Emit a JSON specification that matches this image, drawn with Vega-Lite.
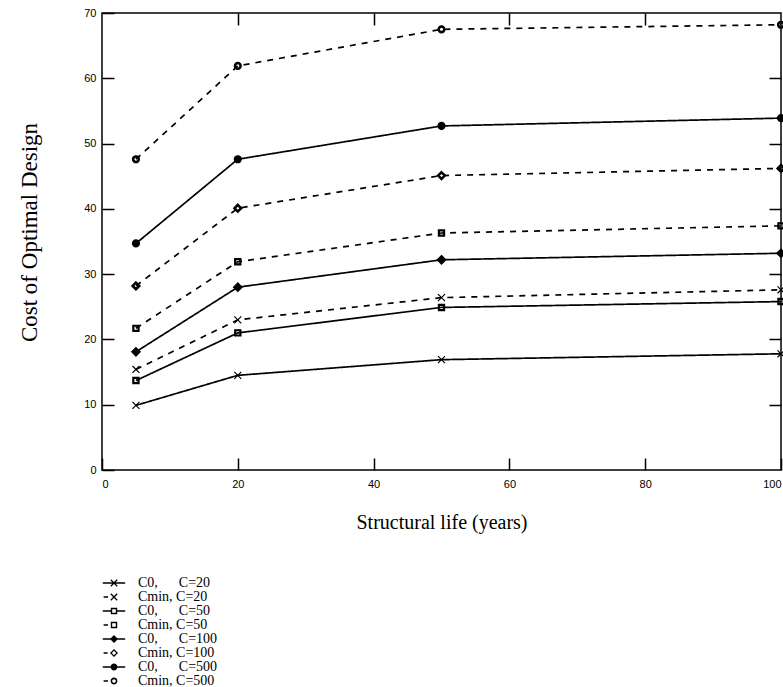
{
  "$schema": "https://vega.github.io/schema/vega-lite/v6.json",
  "width": 679,
  "height": 457,
  "autosize": {"type": "none"},
  "padding": {"left": 102, "top": 13, "right": 2, "bottom": 217},
  "background": "white",
  "config": {
    "view": {"stroke": "black", "strokeWidth": 1.5},
    "axis": {
      "grid": false,
      "domain": false,
      "tickColor": "black",
      "tickWidth": 1.5,
      "labelColor": "black",
      "labelFont": "Liberation Sans",
      "labelFontSize": 11,
      "titleFont": "Liberation Serif",
      "titleFontWeight": "normal",
      "titleColor": "black"
    },
    "legend": {
      "labelFont": "Liberation Serif",
      "labelFontSize": 14,
      "labelColor": "black"
    }
  },
  "data": {
    "values": [
      {"s": "C0,\u00a0\u00a0\u00a0\u00a0\u00a0\u00a0C=20", "life": 5, "cost": 9.9},
      {"s": "C0,\u00a0\u00a0\u00a0\u00a0\u00a0\u00a0C=20", "life": 20, "cost": 14.5},
      {"s": "C0,\u00a0\u00a0\u00a0\u00a0\u00a0\u00a0C=20", "life": 50, "cost": 16.9},
      {"s": "C0,\u00a0\u00a0\u00a0\u00a0\u00a0\u00a0C=20", "life": 100, "cost": 17.8},
      {"s": "Cmin, C=20", "life": 5, "cost": 15.4},
      {"s": "Cmin, C=20", "life": 20, "cost": 23.0},
      {"s": "Cmin, C=20", "life": 50, "cost": 26.4},
      {"s": "Cmin, C=20", "life": 100, "cost": 27.6},
      {"s": "C0,\u00a0\u00a0\u00a0\u00a0\u00a0\u00a0C=50", "life": 5, "cost": 13.7},
      {"s": "C0,\u00a0\u00a0\u00a0\u00a0\u00a0\u00a0C=50", "life": 20, "cost": 21.0},
      {"s": "C0,\u00a0\u00a0\u00a0\u00a0\u00a0\u00a0C=50", "life": 50, "cost": 24.9},
      {"s": "C0,\u00a0\u00a0\u00a0\u00a0\u00a0\u00a0C=50", "life": 100, "cost": 25.8},
      {"s": "Cmin, C=50", "life": 5, "cost": 21.7},
      {"s": "Cmin, C=50", "life": 20, "cost": 31.9},
      {"s": "Cmin, C=50", "life": 50, "cost": 36.3},
      {"s": "Cmin, C=50", "life": 100, "cost": 37.4},
      {"s": "C0,\u00a0\u00a0\u00a0\u00a0\u00a0\u00a0C=100", "life": 5, "cost": 18.1},
      {"s": "C0,\u00a0\u00a0\u00a0\u00a0\u00a0\u00a0C=100", "life": 20, "cost": 28.0},
      {"s": "C0,\u00a0\u00a0\u00a0\u00a0\u00a0\u00a0C=100", "life": 50, "cost": 32.2},
      {"s": "C0,\u00a0\u00a0\u00a0\u00a0\u00a0\u00a0C=100", "life": 100, "cost": 33.2},
      {"s": "Cmin, C=100", "life": 5, "cost": 28.2},
      {"s": "Cmin, C=100", "life": 20, "cost": 40.1},
      {"s": "Cmin, C=100", "life": 50, "cost": 45.1},
      {"s": "Cmin, C=100", "life": 100, "cost": 46.2},
      {"s": "C0,\u00a0\u00a0\u00a0\u00a0\u00a0\u00a0C=500", "life": 5, "cost": 34.7},
      {"s": "C0,\u00a0\u00a0\u00a0\u00a0\u00a0\u00a0C=500", "life": 20, "cost": 47.6},
      {"s": "C0,\u00a0\u00a0\u00a0\u00a0\u00a0\u00a0C=500", "life": 50, "cost": 52.7},
      {"s": "C0,\u00a0\u00a0\u00a0\u00a0\u00a0\u00a0C=500", "life": 100, "cost": 53.9},
      {"s": "Cmin, C=500", "life": 5, "cost": 47.6},
      {"s": "Cmin, C=500", "life": 20, "cost": 61.9},
      {"s": "Cmin, C=500", "life": 50, "cost": 67.5},
      {"s": "Cmin, C=500", "life": 100, "cost": 68.2}
    ]
  },
  "resolve": {
    "scale": {"shape": "independent"},
    "axis": {"x": "independent", "y": "independent"}
  },
  "layer": [
    {
      "mark": {"type": "line", "color": "black", "strokeWidth": 1.7},
      "encoding": {
        "x": {
          "field": "life", "type": "quantitative",
          "scale": {"domain": [0, 100], "nice": false},
          "axis": {"orient": "bottom", "values": [0, 20, 40, 60, 80, 100], "tickSize": -12, "labelPadding": 20, "title": "Structural life (years)", "titleFontSize": 20, "titlePadding": 23}
        },
        "y": {
          "field": "cost", "type": "quantitative",
          "scale": {"domain": [0, 70], "nice": false},
          "axis": {"orient": "left", "values": [0, 10, 20, 30, 40, 50, 60, 70], "tickSize": -12, "labelPadding": 18, "title": "Cost of Optimal Design", "titleFontSize": 23, "titlePadding": 42, "titleY": 219}
        },
        "strokeDash": {
          "field": "s", "type": "nominal",
          "scale": {
            "domain": ["C0,\u00a0\u00a0\u00a0\u00a0\u00a0\u00a0C=20", "Cmin, C=20", "C0,\u00a0\u00a0\u00a0\u00a0\u00a0\u00a0C=50", "Cmin, C=50", "C0,\u00a0\u00a0\u00a0\u00a0\u00a0\u00a0C=100", "Cmin, C=100", "C0,\u00a0\u00a0\u00a0\u00a0\u00a0\u00a0C=500", "Cmin, C=500"],
            "range": [[1, 0], [6, 6], [1, 0], [6, 6], [1, 0], [6, 6], [1, 0], [6, 6]]
          },
          "legend": null
        }
      }
    },
    {
      "mark": {"type": "point", "filled": false, "fill": "black", "stroke": "black", "strokeWidth": 1.2, "size": 60, "opacity": 1},
      "encoding": {
        "x": {
          "field": "life", "type": "quantitative",
          "axis": {"orient": "top", "values": [20, 40, 60, 80], "tickSize": -12, "labels": false, "title": null}
        },
        "y": {
          "field": "cost", "type": "quantitative",
          "axis": {"orient": "right", "values": [10, 20, 30, 40, 50, 60], "tickSize": -12, "labels": false, "title": null}
        },
        "shape": {
          "field": "s", "type": "nominal",
          "scale": {
            "domain": ["C0,\u00a0\u00a0\u00a0\u00a0\u00a0\u00a0C=20", "Cmin, C=20", "C0,\u00a0\u00a0\u00a0\u00a0\u00a0\u00a0C=50", "Cmin, C=50", "C0,\u00a0\u00a0\u00a0\u00a0\u00a0\u00a0C=100", "Cmin, C=100", "C0,\u00a0\u00a0\u00a0\u00a0\u00a0\u00a0C=500", "Cmin, C=500"],
            "range": [
              "M-0.9,-0.9L0.9,0.9M-0.9,0.9L0.9,-0.9",
              "M-0.9,-0.9L0.9,0.9M-0.9,0.9L0.9,-0.9",
              "M-0.8,-0.8H0.8V0.8H-0.8ZM-0.55,-0.55V0.55H0.55V-0.55Z",
              "M-0.8,-0.8H0.8V0.8H-0.8ZM-0.55,-0.55V0.55H0.55V-0.55Z",
              "M0,-1.1L1.1,0L0,1.1L-1.1,0Z",
              "M0,-1.1L1.1,0L0,1.1L-1.1,0ZM0,-0.62L-0.62,0L0,0.62L0.62,0Z",
              "M0.9,0A0.9,0.9,0,1,1,-0.9,0A0.9,0.9,0,1,1,0.9,0Z",
              "M0.9,0A0.9,0.9,0,1,1,-0.9,0A0.9,0.9,0,1,1,0.9,0ZM0.55,0A0.55,0.55,0,1,0,-0.55,0A0.55,0.55,0,1,0,0.55,0Z"
            ]
          },
          "legend": null
        }
      }
    },
    {
      "mark": {"type": "point", "filled": false, "fill": "black", "stroke": "black", "strokeWidth": 1.3, "size": 0},
      "encoding": {
        "x": {"field": "life", "type": "quantitative", "axis": null},
        "y": {"field": "cost", "type": "quantitative", "axis": null},
        "shape": {
          "field": "s", "type": "nominal",
          "scale": {
            "domain": ["C0,\u00a0\u00a0\u00a0\u00a0\u00a0\u00a0C=20", "Cmin, C=20", "C0,\u00a0\u00a0\u00a0\u00a0\u00a0\u00a0C=50", "Cmin, C=50", "C0,\u00a0\u00a0\u00a0\u00a0\u00a0\u00a0C=100", "Cmin, C=100", "C0,\u00a0\u00a0\u00a0\u00a0\u00a0\u00a0C=500", "Cmin, C=500"],
            "range": [
              "M-2.8,-0.18H2.8V0.18H-2.8ZM-0.685,-0.915L0.915,0.685L0.685,0.915L-0.915,-0.685ZM0.685,-0.915L0.915,-0.685L-0.685,0.915L-0.915,0.685Z",
              "M-2.6,-0.18H-1.5V0.18H-2.6ZM-0.685,-0.915L0.915,0.685L0.685,0.915L-0.915,-0.685ZM0.685,-0.915L0.915,-0.685L-0.685,0.915L-0.915,0.685Z",
              "M-2.8,-0.18H-0.8V0.18H-2.8ZM0.8,-0.18H2.8V0.18H0.8ZM-0.8,-0.8H0.8V0.8H-0.8ZM-0.45,-0.45V0.45H0.45V-0.45Z",
              "M-2.6,-0.18H-1.5V0.18H-2.6ZM-0.8,-0.8H0.8V0.8H-0.8ZM-0.45,-0.45V0.45H0.45V-0.45Z",
              "M-2.8,-0.18H2.8V0.18H-2.8ZM0,-1L1,0L0,1L-1,0Z",
              "M-2.6,-0.18H-1.6V0.18H-2.6ZM0,-1L1,0L0,1L-1,0ZM0,-0.55L-0.55,0L0,0.55L0.55,0Z",
              "M-2.8,-0.18H2.8V0.18H-2.8ZM0.85,0A0.85,0.85,0,1,1,-0.85,0A0.85,0.85,0,1,1,0.85,0Z",
              "M-2.6,-0.18H-1.5V0.18H-2.6ZM0.85,0A0.85,0.85,0,1,1,-0.85,0A0.85,0.85,0,1,1,0.85,0ZM0.45,0A0.45,0.45,0,1,0,-0.45,0A0.45,0.45,0,1,0,0.45,0Z"
            ]
          },
          "legend": {
            "orient": "none",
            "legendX": 5,
            "legendY": 563,
            "title": null,
            "symbolSize": 64,
            "symbolStrokeWidth": 1.3,
            "symbolFillColor": "black",
            "symbolStrokeColor": "black",
            "symbolOpacity": 1,
            "labelOffset": 17,
            "rowPadding": -2
          }
        }
      }
    }
  ]
}
